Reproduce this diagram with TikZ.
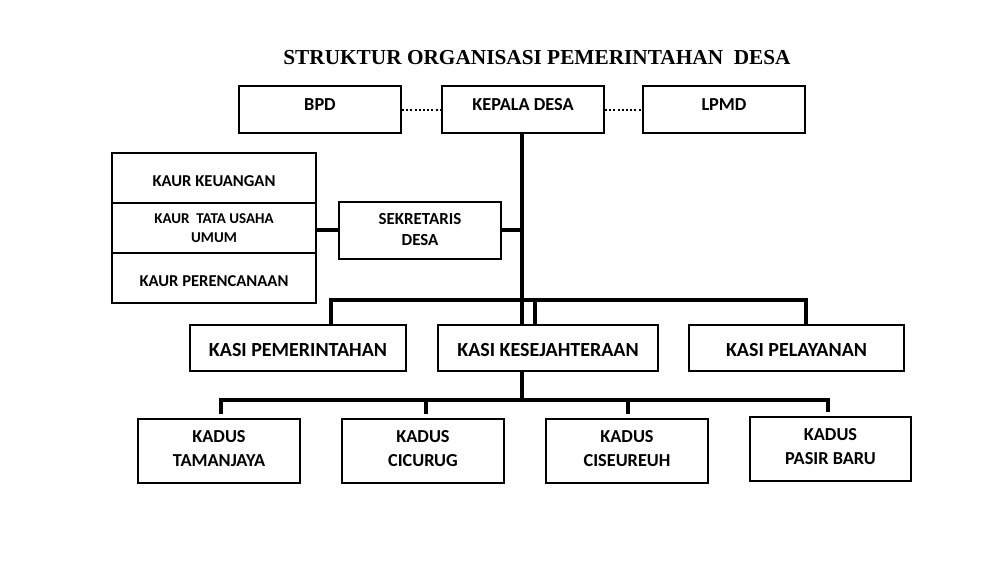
\documentclass[tikz,border=0pt]{standalone}
\usepackage{fontspec}
\setmainfont{Carlito}
\newfontfamily\titlefont{Liberation Serif}
\begin{document}
\begin{tikzpicture}[x=1pt,y=-1pt,
  box/.style={draw, line width=1.8pt, inner sep=0pt},
  txt/.style={inner sep=0pt, align=center, font=\bfseries\fontsize{18.3}{24}\selectfont},
  kaurtxt/.style={inner sep=0pt, align=center, font=\bfseries\fontsize{16.6}{20}\selectfont},
  kasitxt/.style={inner sep=0pt, align=center, font=\bfseries\fontsize{20}{24}\selectfont},
  conn/.style={line width=4pt, line join=miter},
  dots/.style={line width=2pt, dash pattern=on 2pt off 2.2pt}]
\useasboundingbox (0,0) rectangle (1001,577);

% title
\node[inner sep=0pt, font=\titlefont\bfseries\fontsize{21.3}{25}\selectfont] (title) at (537,58) {STRUKTUR ORGANISASI PEMERINTAHAN\ \ DESA};

% top row
\node[box, minimum width=162pt, minimum height=47pt] (bpd) at (320,109.5) {};
\node[box, minimum width=162pt, minimum height=47pt] (kd) at (523,109.5) {};
\node[box, minimum width=162pt, minimum height=47pt] (lpmd) at (724,109.5) {};
\node[txt] (bpdt) at (320,105) {BPD};
\node[txt] (kdt) at (523,105) {KEPALA DESA};
\node[txt] (lpmdt) at (724,105) {LPMD};

% kaur stack
\node[box, minimum width=204pt, minimum height=50pt] (kaur1) at (214,178) {};
\node[box, minimum width=204pt, minimum height=50pt] (kaur2) at (214,228) {};
\node[box, minimum width=204pt, minimum height=50pt] (kaur3) at (214,278) {};
\node[kaurtxt] (kaur1t) at (214,181) {KAUR KEUANGAN};
\node[inner sep=0pt, align=center, font=\bfseries\fontsize{15}{19}\selectfont] (kaur2t) at (214,228.5) {KAUR\ \ TATA USAHA\\UMUM};
\node[kaurtxt] (kaur3t) at (214,281) {KAUR PERENCANAAN};

% sekretaris
\node[box, minimum width=162pt, minimum height=57pt] (sek) at (420,230.5) {};
\node[inner sep=0pt, align=center, font=\bfseries\fontsize{16.9}{21}\selectfont] (sekt) at (420,229.5) {SEKRETARIS\\DESA};

% kasi
\node[box, minimum width=216pt, minimum height=46pt] (pem) at (298,348) {};
\node[box, minimum width=220pt, minimum height=46pt] (kes) at (548,348) {};
\node[box, minimum width=215pt, minimum height=46pt] (pel) at (796.5,348) {};
\node[kasitxt] (pemt) at (298,350) {KASI PEMERINTAHAN};
\node[kasitxt] (kest) at (548,350) {KASI KESEJAHTERAAN};
\node[kasitxt] (pelt) at (796.5,350) {KASI PELAYANAN};

% kadus
\node[box, minimum width=162pt, minimum height=64pt] (k1) at (219,451) {};
\node[box, minimum width=162pt, minimum height=64pt] (k2) at (423,451) {};
\node[box, minimum width=162pt, minimum height=64pt] (k3) at (627,451) {};
\node[box, minimum width=161pt, minimum height=64pt] (k4) at (830.5,449) {};
\node[txt] (k1t) at (219,449) {KADUS\\TAMANJAYA};
\node[txt] (k2t) at (423,449) {KADUS\\CICURUG};
\node[txt] (k3t) at (627,449) {KADUS\\CISEUREUH};
\node[txt] (k4t) at (830.5,447) {KADUS\\PASIR BARU};

% dotted links
\draw[dots] ([yshift=-1pt]bpd.east) -- ([yshift=-1pt]kd.west);
\draw[dots] ([yshift=-1pt]kd.east) -- ([yshift=-1pt]lpmd.west);

% main spine
\coordinate (sp) at (522,133);
\draw[conn] (sp) -- (sp |- kes.north);
\draw[conn] (sek.west) -- (sek.west -| kaur2.east);
\draw[conn] (sek.east) -- (sek.east -| sp);

% kasi bar
\coordinate (h1) at (331,300);
\coordinate (h2) at (535,300);
\coordinate (h3) at (806,300);
\draw[conn] (pem.north -| h1) -- (h1) -- (h3) -- (pel.north -| h3);
\draw[conn] (h2) -- (kes.north -| h2);

% kadus bar
\coordinate (l1) at (221,400);
\coordinate (l2) at (426,400);
\coordinate (l3) at (628,400);
\coordinate (l4) at (828,400);
\draw[conn] (kes.south -| sp) -- (l1 -| sp);
\draw[conn, shorten <=4pt, shorten >=4pt] (k1.north -| l1) -- (l1) -- (l4) -- (k4.north -| l4);
\draw[conn, shorten >=4pt] (l2) -- (k2.north -| l2);
\draw[conn, shorten >=4pt] (l3) -- (k3.north -| l3);
\end{tikzpicture}
\end{document}
